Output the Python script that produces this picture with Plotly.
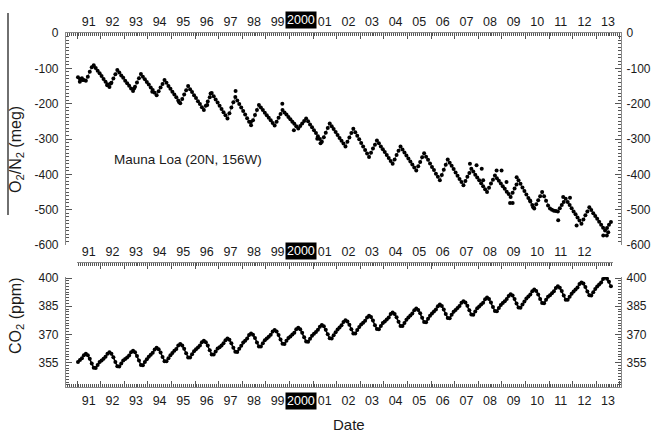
import plotly.graph_objects as go

# ---------------- data ----------------
start_year = 1991  # monthly values, first value = Jan 1991
year_ticks = list(range(1991, 2015))
top_labels = ['91', '92', '93', '94', '95', '96', '97', '98', '99', '2000', '01', '02',
              '03', '04', '05', '06', '07', '08', '09', '10', '11', '12', '13']

o2_values = [
    -125, -130, -128, -133, -135, -124, -110, -97, -91, -99, -107, -114,
    -122, -130, -138, -145, -153, -141, -129, -117, -105, -112, -120, -127,
    -135, -142, -149, -157, -164, -152, -140, -128, -116, -124, -131, -139,
    -146, -154, -161, -169, -176, -165, -154, -144, -133, -141, -150, -158,
    -166, -174, -182, -191, -199, -187, -174, -162, -150, -159, -167, -176,
    -184, -193, -201, -210, -218, -206, -194, -182, -170, -179, -188, -197,
    -206, -215, -224, -233, -242, -227, -211, -196, -181, -191, -201, -211,
    -221, -231, -241, -251, -261, -247, -232, -218, -204, -211, -218, -226,
    -233, -240, -247, -255, -262, -251, -240, -229, -218, -225, -231, -238,
    -244, -251, -257, -264, -270, -263, -256, -249, -242, -250, -259, -267,
    -275, -283, -292, -300, -308, -295, -282, -269, -256, -264, -272, -280,
    -289, -297, -305, -313, -321, -308, -296, -283, -271, -281, -291, -301,
    -311, -321, -331, -341, -351, -339, -327, -316, -304, -312, -321, -329,
    -337, -345, -354, -362, -370, -358, -345, -333, -321, -330, -338, -347,
    -355, -364, -372, -381, -389, -377, -365, -352, -340, -350, -359, -369,
    -379, -388, -398, -407, -417, -402, -387, -373, -358, -367, -376, -385,
    -395, -404, -413, -422, -431, -419, -407, -396, -384, -392, -401, -409,
    -417, -425, -434, -442, -450, -438, -426, -415, -403, -411, -418, -426,
    -434, -441, -449, -456, -464, -452, -440, -429, -417, -427, -437, -447,
    -457, -467, -477, -487, -497, -485, -473, -462, -450, -462, -475, -488,
    -497, -500, -503, -504, -505, -496, -487, -478, -469, -478, -487, -496,
    -505, -513, -522, -531, -540, -528, -516, -505, -493, -501, -510, -518,
    -526, -534, -543, -551, -559, -552, -543, -535,
]

o2_extra_dates = [1991.23, 1991.12, 1992.28, 1992.43, 1993.42, 1994.19, 1995.32, 1996.52,
                  1996.66, 1997.72, 1998.36, 1999.70, 2000.19, 2001.18, 2001.32, 2007.65,
                  2007.93, 2008.15, 2008.21, 2008.78, 2008.99, 2009.20, 2009.35, 2009.46,
                  2009.63, 2010.20, 2010.33, 2011.39, 2011.60, 2011.89, 2012.17, 2013.30,
                  2013.45, 2013.51]
o2_extra_values = [-133, -138, -148, -143, -157, -166, -195, -204,
                   -171, -164, -252, -200, -275, -299, -312, -370,
                   -374, -384, -417, -389, -389, -422, -481, -481,
                   -408, -474, -493, -530, -464, -466, -545, -573,
                   -573, -564]

co2_values = [
    355.3, 356.3, 357.2, 358.9, 359.7, 358.9, 357.0, 354.5, 352.2, 352.1, 353.7, 355.2,
    356.1, 357.0, 358.0, 359.7, 360.4, 359.6, 357.8, 355.2, 353.0, 352.8, 354.4, 356.0,
    356.8, 357.7, 358.7, 360.4, 361.2, 360.4, 358.5, 356.0, 353.7, 353.5, 355.2, 356.7,
    358.1, 359.1, 360.2, 361.9, 362.8, 362.1, 360.3, 357.9, 355.7, 355.6, 357.3, 358.9,
    360.1, 361.2, 362.2, 364.0, 364.9, 364.1, 362.3, 359.9, 357.7, 357.6, 359.4, 361.0,
    362.0, 363.0, 364.0, 365.8, 366.6, 365.8, 364.0, 361.5, 359.3, 359.2, 360.8, 362.4,
    363.1, 364.1, 365.2, 366.9, 367.8, 367.1, 365.3, 362.8, 360.7, 360.6, 362.3, 363.9,
    365.6, 366.6, 367.8, 369.6, 370.5, 369.8, 368.0, 365.6, 363.5, 363.5, 365.2, 366.9,
    367.8, 368.7, 369.8, 371.5, 372.3, 371.5, 369.7, 367.2, 365.0, 364.9, 366.6, 368.1,
    368.9, 369.9, 370.9, 372.7, 373.5, 372.7, 370.9, 368.4, 366.2, 366.1, 367.7, 369.3,
    370.3, 371.3, 372.4, 374.1, 375.0, 374.3, 372.5, 370.0, 367.9, 367.8, 369.5, 371.1,
    372.6, 373.7, 374.8, 376.6, 377.5, 376.8, 375.1, 372.7, 370.5, 370.5, 372.3, 373.9,
    375.2, 376.2, 377.3, 379.0, 379.9, 379.2, 377.4, 374.9, 372.8, 372.7, 374.4, 376.0,
    376.9, 377.9, 379.0, 380.8, 381.6, 380.9, 379.1, 376.7, 374.5, 374.4, 376.1, 377.8,
    379.0, 380.1, 381.1, 382.9, 383.8, 383.0, 381.2, 378.8, 376.6, 376.5, 378.3, 379.9,
    381.1, 382.2, 383.2, 385.0, 385.9, 385.1, 383.3, 380.9, 378.7, 378.6, 380.4, 382.0,
    383.0, 384.0, 385.1, 386.9, 387.7, 387.0, 385.2, 382.8, 380.6, 380.5, 382.2, 383.9,
    384.8, 385.9, 386.9, 388.7, 389.6, 388.8, 387.0, 384.6, 382.4, 382.3, 384.1, 385.7,
    386.7, 387.7, 388.8, 390.5, 391.4, 390.7, 388.9, 386.4, 384.3, 384.2, 385.9, 387.5,
    389.1, 390.2, 391.2, 393.0, 393.9, 393.1, 391.3, 388.9, 386.7, 386.6, 388.4, 390.0,
    390.9, 391.9, 393.0, 394.7, 395.6, 394.9, 393.1, 390.7, 388.5, 388.4, 390.1, 391.7,
    392.9, 393.9, 395.0, 396.8, 397.7, 397.1, 395.3, 392.9, 390.8, 390.7, 392.5, 394.2,
    395.5, 396.6, 397.7, 399.5, 400.4, 399.7, 398.0, 395.6,
]

o2_ticks = [0, -100, -200, -300, -400, -500, -600]
o2_ticktext = ['0', '-100', '-200', '-300', '-400', '-500', '-600']
co2_ticks = [355, 370, 385, 400]

# ---------------- geometry ----------------
W, H = 652, 434
def px(x): return x / W
def py(y): return 1 - y / H

PX_PER_YEAR = 23.6
X_1991 = 77.0
def yr(xpix): return 1991 + (xpix - X_1991) / PX_PER_YEAR

dates = [start_year + (i + 0.5) / 12 for i in range(len(o2_values))]
co2_dates = [start_year + (i + 0.5) / 12 for i in range(len(co2_values))]
mid_all = [y + 0.5 for y in range(1991, 2014)]
# "2000" is drawn separately as a white-on-black box
lab_pos = [m for m, t in zip(mid_all, top_labels) if t != '2000']
lab_txt = [t for t in top_labels if t != '2000']
HILITE = 2000.5

AXC = '#8a8a8a'
TKC = '#555555'
FONT = 'Liberation Sans, Arial, sans-serif'
tickfont = dict(family=FONT, size=12.5, color='#1a1a1a')
yfont = dict(family=FONT, size=12, color='#1a1a1a')

def tick_x(**kw):
    d = dict(showline=True, linecolor=AXC, linewidth=1.2, ticks='inside', ticklen=6,
             tickcolor=TKC, tickwidth=1, tickmode='array', tickvals=year_ticks,
             showticklabels=False, showgrid=False, zeroline=False, automargin=False,
             minor=dict(ticks='inside', ticklen=3, tickcolor=TKC, tickwidth=0.7,
                        tickmode='linear', tick0=1991, dtick=1 / 12, showgrid=False))
    d.update(kw)
    return d

def label_x(tv, tt, **kw):
    d = dict(showline=False, ticks='', tickmode='array', tickvals=tv, ticktext=tt,
             showgrid=False, zeroline=False, tickfont=tickfont, ticklabelstandoff=4,
             automargin=False)
    d.update(kw)
    return d

def y_ax(rng, tv, tt, mdt, m0, standoff, **kw):
    d = dict(range=rng, showline=True, linecolor=AXC, linewidth=1.2, ticks='inside',
             ticklen=6, tickcolor=TKC, tickwidth=1, tickmode='array', tickvals=tv,
             ticktext=tt, tickfont=yfont, showgrid=False, zeroline=False,
             ticklabelstandoff=standoff, automargin=False,
             minor=dict(ticks='inside', ticklen=3, tickcolor=TKC, tickwidth=0.7,
                        tickmode='linear', tick0=m0, dtick=mdt, showgrid=False))
    d.update(kw)
    return d

xr_main = [yr(66), yr(621)]
xr_row2 = [yr(77), yr(613)]
dom_main = [px(66), px(621)]
top_dom = [py(245), py(33)]
bot_dom = [py(387), py(277)]
o2_range = [-600, 0]
co2_range = [341.9, 400.6]

fig = go.Figure()

fig.add_trace(go.Scatter(x=dates, y=o2_values, mode='lines+markers', xaxis='x', yaxis='y',
                         line=dict(color='#6e6e6e', width=1),
                         marker=dict(color='black', size=4), showlegend=False))
fig.add_trace(go.Scatter(x=o2_extra_dates, y=o2_extra_values, mode='markers', xaxis='x', yaxis='y',
                         marker=dict(color='black', size=4), showlegend=False))
fig.add_trace(go.Scatter(x=co2_dates, y=co2_values, mode='lines+markers', xaxis='x3', yaxis='y3',
                         line=dict(color='black', width=1.5),
                         marker=dict(color='black', size=4), showlegend=False))
# invisible anchors so that the label-only overlay axes get drawn
for xa, ya, yv in (('x2', 'y', -300), ('x4', 'y3', 370), ('x6', 'y5', 0.5),
                   ('x', 'y2', -300), ('x3', 'y4', 370)):
    fig.add_trace(go.Scatter(x=[2000.0], y=[yv], xaxis=xa, yaxis=ya, mode='markers',
                             marker=dict(opacity=0, size=1), hoverinfo='skip', showlegend=False))

fig.update_layout(
    width=W, height=H, autosize=False,
    margin=dict(l=0, r=0, t=0, b=0, pad=0, autoexpand=False),
    paper_bgcolor='white', plot_bgcolor='white',
    showlegend=False,
    # top panel
    xaxis=tick_x(domain=dom_main, range=xr_main, anchor='y', side='top'),
    xaxis2=label_x(lab_pos, lab_txt, overlaying='x', anchor='y', side='top', range=xr_main),
    yaxis=y_ax(o2_range, o2_ticks, o2_ticktext, 10, 0, 4, domain=top_dom, anchor='x', side='left'),
    yaxis2=y_ax(o2_range, o2_ticks, o2_ticktext, 10, 0, 2, overlaying='y', anchor='x', side='right'),
    # bottom panel
    xaxis3=tick_x(domain=dom_main, range=xr_main, anchor='y3', side='bottom'),
    xaxis4=label_x(lab_pos, lab_txt, overlaying='x3', anchor='y3', side='bottom', range=xr_main),
    yaxis3=y_ax(co2_range, co2_ticks, [str(v) for v in co2_ticks], 1.5, 355, 4,
                domain=bot_dom, anchor='x3', side='left'),
    yaxis4=y_ax(co2_range, co2_ticks, [str(v) for v in co2_ticks], 1.5, 355, 2,
                overlaying='y3', anchor='x3', side='right'),
    # middle tick row (top of CO2 panel)
    xaxis5=tick_x(domain=[px(77), px(613)], range=xr_row2, anchor='y5', side='top'),
    xaxis6=label_x(lab_pos[:-1], lab_txt[:-1], overlaying='x5', anchor='y5',
                   side='top', range=xr_row2),
    yaxis5=dict(domain=[py(264), py(263)], anchor='x5', visible=False, range=[0, 1],
                automargin=False),
)

ann = []
box = dict(text='2000', showarrow=False, font=dict(family=FONT, size=12.5, color='white'),
           bgcolor='black', borderpad=1, xanchor='center', yanchor='middle')
ann.append(dict(box, x=HILITE, xref='x', y=py(20.5), yref='paper'))
ann.append(dict(box, x=HILITE, xref='x5', y=py(250.5), yref='paper'))
ann.append(dict(box, x=HILITE, xref='x3', y=py(400.5), yref='paper'))
ann.append(dict(text='O<sub>2</sub>/N<sub>2</sub> (meg)', textangle=-90, showarrow=False,
                x=px(17), y=py(150), xref='paper', yref='paper', xanchor='center', yanchor='middle',
                font=dict(family=FONT, size=16, color='#1a1a1a')))
ann.append(dict(text='CO<sub>2</sub> (ppm)', textangle=-90, showarrow=False,
                x=px(16), y=py(316), xref='paper', yref='paper', xanchor='center', yanchor='middle',
                font=dict(family=FONT, size=16, color='#1a1a1a')))
ann.append(dict(text='Mauna Loa (20N, 156W)', showarrow=False, x=px(112), y=py(160),
                xref='paper', yref='paper', xanchor='left', yanchor='middle',
                font=dict(family=FONT, size=13.5, color='#1a1a1a')))
ann.append(dict(text='Date', showarrow=False, x=px(349), y=py(424.5), xref='paper', yref='paper',
                xanchor='center', yanchor='middle', font=dict(family=FONT, size=15, color='#1a1a1a')))
fig.update_layout(annotations=ann)

fig.add_shape(type='line', xref='paper', yref='paper', x0=px(8), x1=px(8), y0=py(13), y1=py(215),
              line=dict(color='#222', width=1.3))

fig.write_html('out.html', config={'displayModeBar': False},
               post_script="document.body.style.margin='0';document.body.style.padding='0';"
                           "document.body.style.overflow='hidden';")
